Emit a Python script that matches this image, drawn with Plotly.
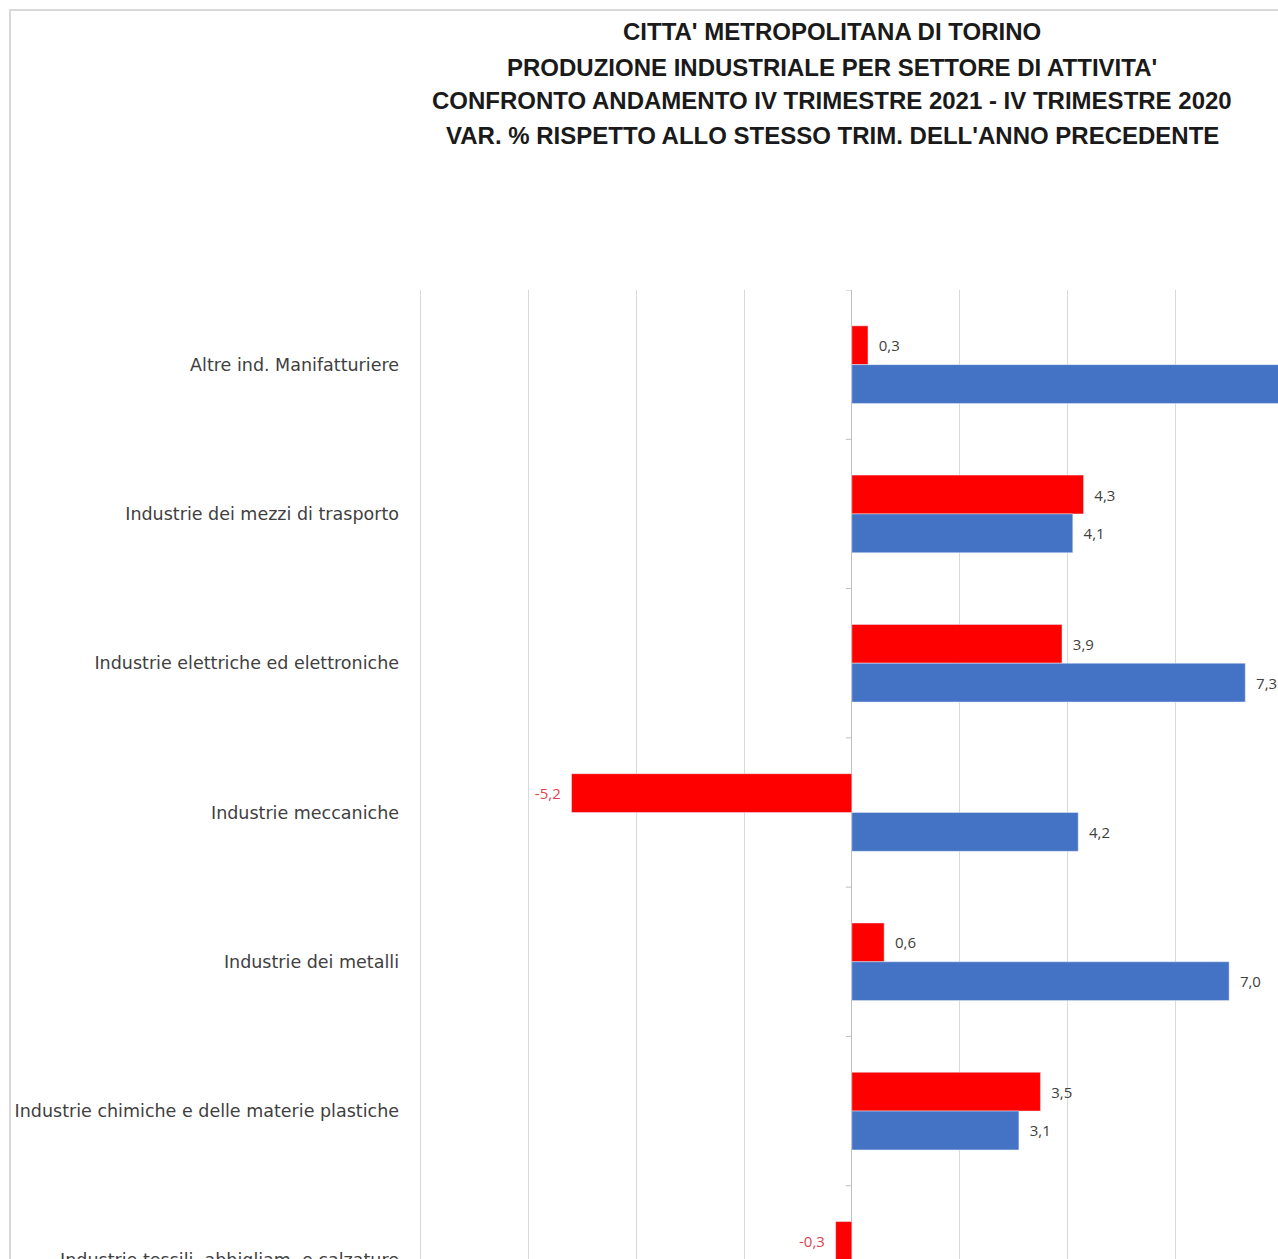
import plotly.graph_objects as go

# ---- data ----
categories = [
    "Altre ind. Manifatturiere",
    "Industrie dei mezzi di trasporto",
    "Industrie elettriche ed elettroniche",
    "Industrie meccaniche",
    "Industrie dei metalli",
    "Industrie chimiche e delle materie plastiche",
    "Industrie tessili, abbigliam. e calzature",
]
red_values = [0.3, 4.3, 3.9, -5.2, 0.6, 3.5, -0.3]
blue_values = [8.6, 4.1, 7.3, 4.2, 7.0, 3.1, None]  # first bar runs off the visible area (estimate)
title_lines = [
    "CITTA' METROPOLITANA DI TORINO",
    "PRODUZIONE INDUSTRIALE PER SETTORE DI ATTIVITA'",
    "CONFRONTO ANDAMENTO IV TRIMESTRE 2021 - IV TRIMESTRE 2020",
    "VAR. % RISPETTO ALLO STESSO TRIM. DELL'ANNO PRECEDENTE",
]
x_range = [-8.03, 8]

# ---- layout constants (pixels) ----
W, H = 1303, 1340
ML, MT = 419, 290
PW = 864
PH = 1045
MR = W - ML - PW
MB = H - MT - PH

NB = "\u00a0\u00a0"


def fmt(v):
    if v is None:
        return ""
    s = f"{v:.1f}".replace(".", ",")
    return NB + s if v >= 0 else s + NB


def colors(vals):
    return ["#e0454f" if (v is not None and v < 0) else "#404040" for v in vals]


fig = go.Figure()
fig.add_trace(go.Bar(
    y=categories, x=red_values, orientation="h", name="IV trim. 2021",
    marker=dict(color="#ff0000"),
    text=[fmt(v) for v in red_values], textposition="outside",
    textfont=dict(family="Open Sans", size=15, color=colors(red_values)),
    constraintext="none", cliponaxis=True,
))
fig.add_trace(go.Bar(
    y=categories, x=blue_values, orientation="h", name="IV trim. 2020",
    marker=dict(color="#4472c4"),
    text=[fmt(v) for v in blue_values], textposition="outside",
    textfont=dict(family="Open Sans", size=15, color=colors(blue_values)),
    constraintext="none", cliponaxis=True,
))

# title lines
title_y_px = [31, 67, 101, 136]
for line, ypx in zip(title_lines, title_y_px):
    fig.add_annotation(
        text=f"<b>{line}</b>", xref="paper", yref="paper",
        x=(832 - ML) / PW, y=1 + (MT - ypx) / PH,
        xanchor="center", yanchor="middle", showarrow=False,
        font=dict(family="Liberation Sans Narrow, Arial Narrow, Liberation Sans, Arial", size=24, color="#1a1a1a"),
    )

# chart-area border
fig.add_shape(
    type="rect", xref="paper", yref="paper",
    x0=(10 - ML) / PW, x1=(W - 2 - ML) / PW,
    y0=-(MB - 2) / PH, y1=1 + (MT - 10) / PH,
    line=dict(color="#d9d9d9", width=2), fillcolor="rgba(0,0,0,0)", layer="below",
)

# category boundary tick marks on the zero axis
for i in range(len(categories) + 1):
    fig.add_shape(
        type="line", xref="x", yref="y", xsizemode="pixel", xanchor=0,
        x0=-6, x1=0, y0=i - 0.5, y1=i - 0.5,
        line=dict(color="#bfbfbf", width=1),
    )

fig.update_layout(
    width=W, height=H,
    margin=dict(l=ML, r=MR, t=MT, b=MB, pad=0),
    paper_bgcolor="white", plot_bgcolor="white",
    barmode="group", bargap=0.48, bargroupgap=0,
    showlegend=False,
    xaxis=dict(
        range=x_range, dtick=2, tick0=0, showticklabels=False, ticks="",
        showgrid=True, gridcolor="#d9d9d9", gridwidth=1,
        zeroline=True, zerolinecolor="#bfbfbf", zerolinewidth=1,
        showline=False, fixedrange=True,
    ),
    yaxis=dict(
        type="category", categoryorder="array", categoryarray=categories,
        range=[len(categories) - 0.5, -0.5],
        showgrid=False, zeroline=False, showline=False, ticks="",
        ticklabelstandoff=19,
        tickfont=dict(family="DejaVu Sans", size=17.5, color="#404040"),
        fixedrange=True,
    ),
    font=dict(family="DejaVu Sans"),
)

fig.write_html(
    "out.html",
    config={"displayModeBar": False},
    post_script="document.documentElement.style.overflow='hidden';document.body.style.overflow='hidden';",
)
